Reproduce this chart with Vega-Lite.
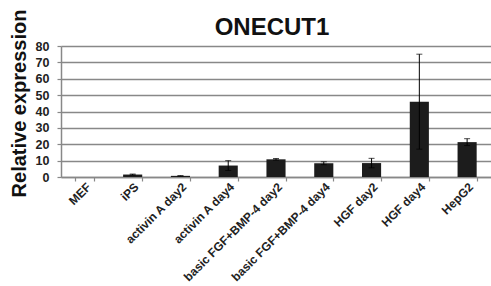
{
  "$schema": "https://vega.github.io/schema/vega-lite/v6.json",
  "autosize": "none",
  "width": 430,
  "height": 131,
  "padding": {"left": 61, "top": 46, "right": 0, "bottom": 109},
  "background": "white",
  "title": {"text": "ONECUT1", "font": "Liberation Sans", "fontSize": 24, "fontWeight": "bold", "color": "#111", "offset": -31, "dx": -4},
  "config": {"view": {"stroke": null},
    "axisY": {"titleFont": "Liberation Sans", "titleFontSize": 20, "titleFontWeight": "bold", "titleColor": "#111", "titlePadding": 6, "titleY": 57,
      "labelOverlap": false, "labelFont": "Liberation Sans", "labelFontSize": 12.5, "labelFontWeight": "bold", "labelColor": "#222",
      "grid": true, "gridColor": "#888", "gridWidth": 1.5, "domainColor": "#888", "domainWidth": 1.5, "tickColor": "#888", "tickSize": 4, "tickWidth": 1.2, "labelPadding": 8}},
  "data": {"values": [
    {"sample": "MEF", "value": 0, "err": 0},
    {"sample": "iPS", "value": 1.5, "err": 0.3},
    {"sample": "activin A day2", "value": 0.7, "err": 0.1},
    {"sample": "activin A day4", "value": 7.0, "err": 3.0},
    {"sample": "basic FGF+BMP-4 day2", "value": 10.8, "err": 0.5},
    {"sample": "basic FGF+BMP-4 day4", "value": 8.4, "err": 0.9},
    {"sample": "HGF day2", "value": 8.5, "err": 2.9},
    {"sample": "HGF day4", "value": 46, "err": 29},
    {"sample": "HepG2", "value": 21.3, "err": 2.1}
  ]},
  "transform": [
    {"calculate": "datum.value - datum.err", "as": "lo"},
    {"calculate": "datum.value + datum.err", "as": "hi"}
  ],
  "encoding": {
    "x": {"field": "sample", "type": "nominal", "sort": null,
      "scale": {"paddingInner": 0.6, "paddingOuter": 0.3},
      "axis": {"title": null, "labelAngle": -45, "labelAlign": "right", "labelBaseline": "top", "labelFont": "Liberation Sans", "labelFontSize": 12, "labelFontWeight": "bold", "labelColor": "#222", "tickBand": "extent", "domainColor": "#888", "domainWidth": 1.5, "tickColor": "#888", "tickSize": 4, "tickWidth": 1.2, "labelPadding": 0, "labelDy": 12, "labelDx": -3, "labelOverlap": false}}
  },
  "layer": [
    {"mark": {"type": "bar", "color": "#1c1c1c"},
     "encoding": {"y": {"field": "value", "type": "quantitative",
       "scale": {"domain": [0, 80]},
       "axis": {"title": "Relative expression", "values": [0,10,20,30,40,50,60,70,80]}}}},
    {"transform": [{"filter": "datum.err > 0"}],
     "layer": [
      {"mark": {"type": "rule", "color": "#000", "strokeWidth": 1},
       "encoding": {"y": {"field": "lo", "type": "quantitative", "axis": {"title": "Relative expression", "values": [0,10,20,30,40,50,60,70,80]}}, "y2": {"field": "hi"}}},
      {"mark": {"type": "tick", "color": "#000", "thickness": 1, "size": 6},
       "encoding": {"y": {"field": "hi", "type": "quantitative", "axis": {"title": "Relative expression", "values": [0,10,20,30,40,50,60,70,80]}}}},
      {"mark": {"type": "tick", "color": "#000", "thickness": 1, "size": 6},
       "encoding": {"y": {"field": "lo", "type": "quantitative", "axis": {"title": "Relative expression", "values": [0,10,20,30,40,50,60,70,80]}}}}
     ]}
  ]
}
